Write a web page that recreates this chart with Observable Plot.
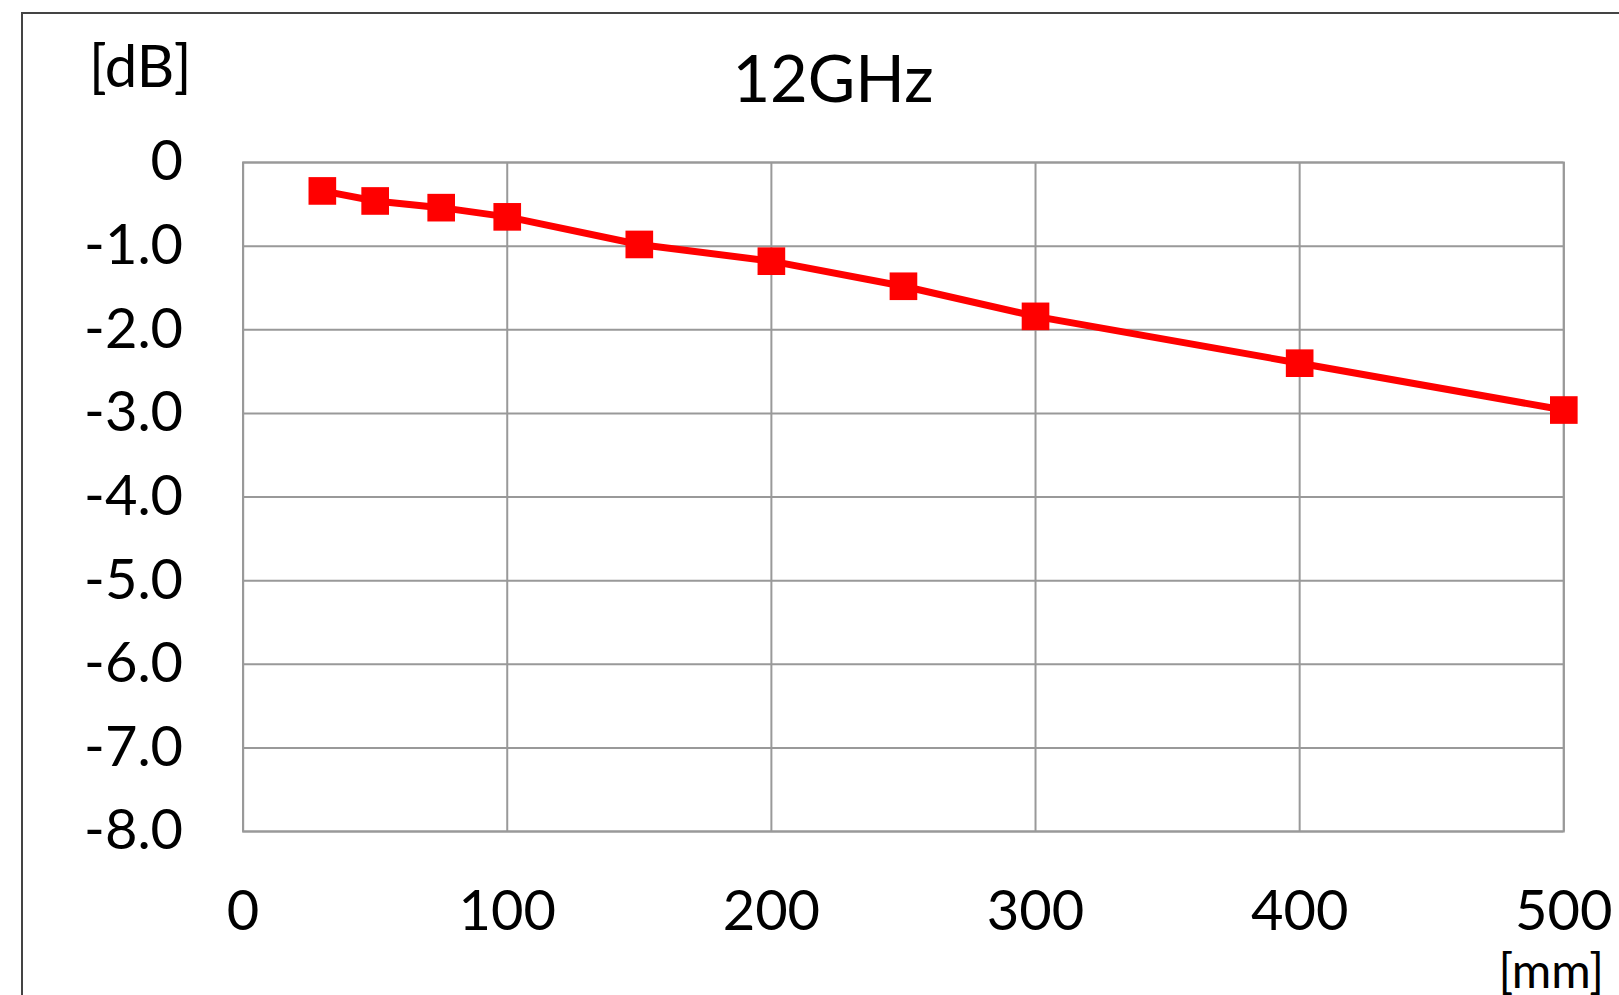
<!DOCTYPE html>
<html>
<head>
<meta charset="utf-8">
<script src="https://cdn.jsdelivr.net/npm/d3@7"></script>
<script src="https://cdn.jsdelivr.net/npm/@observablehq/plot@0.6"></script>
<style>
  html, body { margin: 0; padding: 0; background: #fff; overflow: hidden; }
  #wrap { position: relative; width: 1619px; height: 995px; font-family: Lato, "Noto Sans", sans-serif; }
  #border { position: absolute; left: 21px; top: 12px; width: 1640px; height: 1000px; border: 2px solid #444; box-sizing: border-box; }
  .lbl { position: absolute; line-height: 1; color: #000; white-space: nowrap; }
  #chart { position: absolute; left: 0; top: 0; }
</style>
</head>
<body>
<div id="wrap">
  <div id="border"></div>
  <div id="chart"></div>
  <div class="lbl" id="title" style="left:0; width:1666px; text-align:center; top:45px; font-size:65px;">12GHz</div>
  <div class="lbl" id="ylab" style="left:89px; top:36px; font-size:58px;">[dB]</div>
  <div class="lbl" id="xlab" style="right:15px; top:946px; font-size:48px;">[mm]</div>
</div>
<script>
const distance = [30, 50, 75, 100, 150, 200, 250, 300, 400, 500];
const loss = [-0.34, -0.46, -0.54, -0.65, -0.98, -1.18, -1.48, -1.84, -2.40, -2.96];
const xTicks = [0, 100, 200, 300, 400, 500];
const yTicks = [0, -1, -2, -3, -4, -5, -6, -7, -8];

const data = distance.map((d, i) => ({x: d, y: loss[i]}));

const chart = Plot.plot({
  width: 1619,
  height: 995,
  marginLeft: 242.6,
  marginRight: 55.7,
  marginTop: 162,
  marginBottom: 164,
  style: {fontFamily: "Lato, 'Noto Sans', sans-serif", fontSize: "56px", color: "#000", background: "transparent"},
  x: {domain: [0, 500], ticks: xTicks},
  y: {domain: [-8, 0], ticks: yTicks},
  marks: [
    Plot.gridX(xTicks, {stroke: "#999", strokeOpacity: 1, strokeWidth: 2}),
    Plot.gridY(yTicks, {stroke: "#999", strokeOpacity: 1, strokeWidth: 2}),
    Plot.frame({stroke: "#999", strokeWidth: 2}),
    Plot.axisX({ticks: xTicks, tickSize: 0, tickPadding: 59, label: null, tickFormat: d => String(d), fontSize: 56}),
    Plot.axisY({ticks: yTicks, tickSize: 0, tickPadding: 60, label: null, tickFormat: d => d === 0 ? "0" : d.toFixed(1), fontSize: 56}),
    Plot.line(data, {x: "x", y: "y", stroke: "#ff0000", strokeWidth: 7}),
    Plot.dot(data, {x: "x", y: "y", symbol: "square", r: 15.6, fill: "#ff0000", stroke: "none"})
  ]
});
document.getElementById("chart").appendChild(chart);
</script>
</body>
</html>
